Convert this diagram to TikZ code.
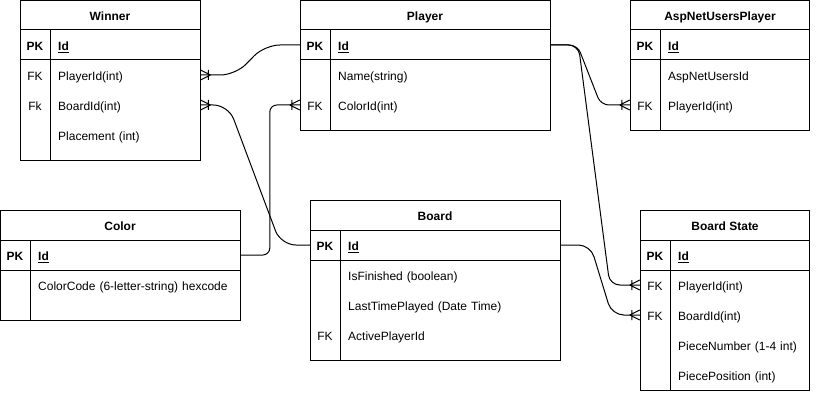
\documentclass[tikz,border=0pt]{standalone}
\usepackage{fontspec}
\setmainfont{Liberation Sans}
\tikzset{
  tbl/.style={draw, line width=1pt},
  hdrbox/.style={font=\fontsize{12}{14}\selectfont\bfseries},
  keybox/.style={minimum width=30pt, minimum height=30pt, inner sep=0pt},
  fld/.style={anchor=west, inner xsep=8pt, inner ysep=0pt, minimum height=30pt, align=left, text width=#1},
  conn/.style={line width=1pt},
  crow/.pic={\draw[conn] (-10,0) -- (0,-5) (-10,0) -- (0,5) (-8,-5) -- (-8,5);}
}
\begin{document}
\begin{tikzpicture}[x=1pt,y=-1pt,every node/.style={font=\fontsize{12}{14}\selectfont, text height=12pt, text depth=1.5pt}]
        \useasboundingbox (0,0) rectangle (821,401);
        % Winner
        \draw[tbl] (20,0.5) rectangle (200,160);
        \draw[tbl] (20,30) -- (200,30) (20,60) -- (200,60) (50,30) -- (50,160);
        \node[hdrbox] (winner) at (110,15) {Winner};
        \node[keybox] (w-pk) at (35,45) {\textbf{PK}};
        \node[fld=134pt] (w-id) at (50,45) {\textbf{\underline{Id}}};
        \node[keybox] (w-fk1) at (35,75) {FK};
        \node[fld=134pt] (w-pid) at (50,75) {PlayerId(int)};
        \node[keybox] (w-fk2) at (35,105) {Fk};
        \node[fld=134pt] (w-bid) at (50,105) {BoardId(int)};
        \node[fld=134pt] (w-place) at (50,135) {Placement (int)};
        % Player
        \draw[tbl] (300,0.5) rectangle (550,130);
        \draw[tbl] (300,30) -- (550,30) (300,60) -- (550,60) (330,30) -- (330,130);
        \node[hdrbox] (player) at (425,15) {Player};
        \node[keybox] (p-pk) at (315,45) {\textbf{PK}};
        \node[fld=204pt] (p-id) at (330,45) {\textbf{\underline{Id}}};
        \node[fld=204pt] (p-name) at (330,75) {Name(string)};
        \node[keybox] (p-fk) at (315,105) {FK};
        \node[fld=204pt] (p-cid) at (330,105) {ColorId(int)};
        % AspNetUsersPlayer
        \draw[tbl] (630,0.5) rectangle (809.5,130);
        \draw[tbl] (630,30) -- (809.5,30) (630,60) -- (809.5,60) (660,30) -- (660,130);
        \node[hdrbox] (asp) at (720,15) {AspNetUsersPlayer};
        \node[keybox] (a-pk) at (645,45) {\textbf{PK}};
        \node[fld=133pt] (a-id) at (660,45) {\textbf{\underline{Id}}};
        \node[fld=133pt] (a-uid) at (660,75) {AspNetUsersId};
        \node[keybox] (a-fk) at (645,105) {FK};
        \node[fld=133pt] (a-pid) at (660,105) {PlayerId(int)};
        % Color
        \draw[tbl] (0.5,210) rectangle (240,320);
        \draw[tbl] (0.5,240) -- (240,240) (0.5,270) -- (240,270) (30,240) -- (30,320);
        \node[hdrbox] (color) at (120,225) {Color};
        \node[keybox] (c-pk) at (15,255) {\textbf{PK}};
        \node[fld=194pt] (c-id) at (30,255) {\textbf{\underline{Id}}};
        \node[fld=194pt] (c-code) at (30,285) {ColorCode (6-letter-string) hexcode};
        % Board
        \draw[tbl] (310,200) rectangle (560,360);
        \draw[tbl] (310,230) -- (560,230) (310,260) -- (560,260) (340,230) -- (340,360);
        \node[hdrbox] (board) at (435,215) {Board};
        \node[keybox] (b-pk) at (325,245) {\textbf{PK}};
        \node[fld=204pt] (b-id) at (340,245) {\textbf{\underline{Id}}};
        \node[fld=204pt] (b-fin) at (340,275) {IsFinished (boolean)};
        \node[fld=204pt] (b-last) at (340,305) {LastTimePlayed (Date Time)};
        \node[keybox] (b-fk) at (325,335) {FK};
        \node[fld=204pt] (b-act) at (340,335) {ActivePlayerId};
        % Board State
        \draw[tbl] (640,210) rectangle (809.5,390.5);
        \draw[tbl] (640,240) -- (809.5,240) (640,270) -- (809.5,270) (670,240) -- (670,390.5);
        \node[hdrbox] (bstate) at (725,225) {Board State};
        \node[keybox] (bs-pk) at (655,255) {\textbf{PK}};
        \node[fld=123pt] (bs-id) at (670,255) {\textbf{\underline{Id}}};
        \node[keybox] (bs-fk1) at (655,285) {FK};
        \node[fld=123pt] (bs-pid) at (670,285) {PlayerId(int)};
        \node[keybox] (bs-fk2) at (655,315) {FK};
        \node[fld=123pt] (bs-bid) at (670,315) {BoardId(int)};
        \node[fld=123pt] (bs-num) at (670,345) {PieceNumber (1-4 int)};
        \node[fld=123pt] (bs-pos) at (670,375) {PiecePosition (int)};
        % relations
        \draw[conn, rounded corners=15pt] (p-pk.west) -- ++(-35,0) -- ([xshift=35pt]w-pid.east) -- (w-pid.east);
        \draw[conn, rounded corners=15pt] (w-bid.east) -- ++(28,0) -- ([xshift=-29pt]b-pk.west) -- (b-pk.west);
        \draw[conn, rounded corners=7pt] (c-id.east) -| ([xshift=-30pt]p-fk.west) -- (p-fk.west);
        \draw[conn, rounded corners=8pt] (p-id.east) -- ++(27,0) -- ([xshift=-29pt]a-fk.west) -- (a-fk.west);
        \draw[conn, rounded corners=10pt] (p-id.east) -- ++(28,0) -- ([xshift=-30pt]bs-fk1.west) -- (bs-fk1.west);
        \draw[conn, rounded corners=12pt] (b-id.east) -- ++(30,0) -- ([xshift=-28pt]bs-fk2.west) -- (bs-fk2.west);
        \pic[xscale=-1] at (w-pid.east) {crow};
        \pic[xscale=-1] at (w-bid.east) {crow};
        \pic at (p-fk.west) {crow};
        \pic at (a-fk.west) {crow};
        \pic at (bs-fk1.west) {crow};
        \pic at (bs-fk2.west) {crow};
    \end{tikzpicture}
\end{document}
